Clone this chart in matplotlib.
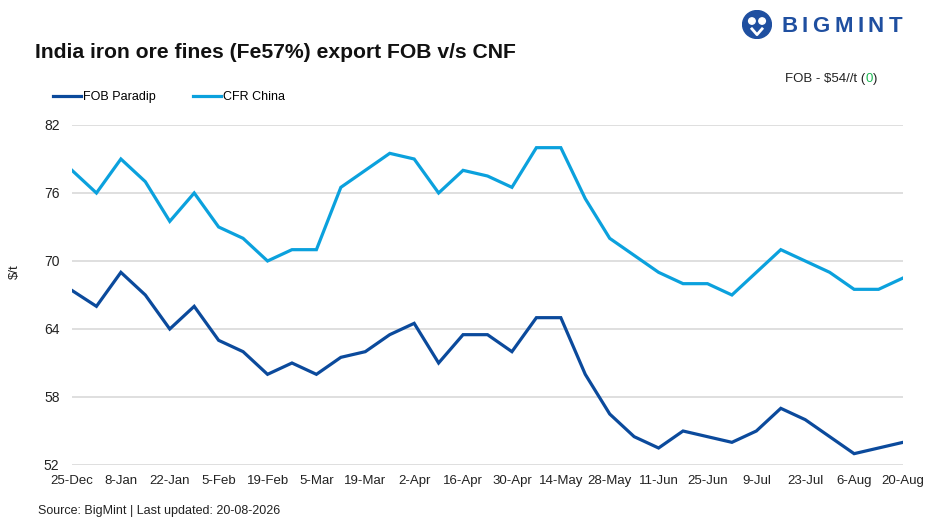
import matplotlib
matplotlib.use("Agg")
import matplotlib.pyplot as plt
from matplotlib.patches import Circle
import numpy as np

tick_labels = ["25-Dec", "8-Jan", "22-Jan", "5-Feb", "19-Feb", "5-Mar", "19-Mar", "2-Apr",
               "16-Apr", "30-Apr", "14-May", "28-May", "11-Jun", "25-Jun", "9-Jul",
               "23-Jul", "6-Aug", "20-Aug"]

fob_paradip = [67.4, 66, 69, 67, 64, 66, 63, 62, 60, 61, 60, 61.5, 62, 63.5, 64.5, 61,
               63.5, 63.5, 62, 65, 65, 60, 56.5, 54.5, 53.5, 55, 54.5, 54, 55, 57, 56,
               54.5, 53, 53.5, 54]
cfr_china = [78, 76, 79, 77, 73.5, 76, 73, 72, 70, 71, 71, 76.5, 78, 79.5, 79, 76, 78,
             77.5, 76.5, 80, 80, 75.5, 72, 70.5, 69, 68, 68, 67, 69, 71, 70, 69, 67.5,
             67.5, 68.5]
y_ticks = [52, 58, 64, 70, 76, 82]

FOB_COLOR = "#0B4A9C"
CFR_COLOR = "#0BA1DD"

plt.rcParams['font.family'] = ['Liberation Sans', 'DejaVu Sans']

fig = plt.figure(figsize=(9.3, 5.25), dpi=100)
ax = fig.add_axes([72/930, 60/525, (903-72)/930, 340/525])

x = np.arange(len(fob_paradip))
ax.plot(x, fob_paradip, color=FOB_COLOR, lw=2.3, solid_joinstyle='miter', label="FOB Paradip")
ax.plot(x, cfr_china, color=CFR_COLOR, lw=2.3, solid_joinstyle='miter', label="CFR China")

ax.set_xlim(0, len(x) - 1)
ax.set_ylim(52, 82)
ax.set_yticks(y_ticks)
ax.set_xticks(np.arange(0, len(x), 2))
ax.set_xticklabels(tick_labels)
ax.tick_params(axis='both', length=0, labelsize=9.5, colors="#222222")
ax.tick_params(axis='x', pad=7.5)
ax.tick_params(axis='y', pad=9, labelsize=10)
ax.grid(axis='y', color="#D9D9D9", lw=1.2)
ax.set_axisbelow(True)
for s in ax.spines.values():
    s.set_visible(False)

fig.text(15/930, 1 - 272/525, "$/t", rotation=90, ha='center', va='center', fontsize=9.5, color="#222222")

# Title
fig.text(35/930, 1 - 52/525, "India iron ore fines (Fe57%) export FOB v/s CNF",
         fontsize=15.2, fontweight='bold', ha='left', va='center', color="#111111")

# Legend
ax.legend(loc='center left', bbox_to_anchor=(53/930, 1 - 97/525), bbox_transform=fig.transFigure,
          ncol=2, frameon=False, borderpad=0, borderaxespad=0, handlelength=2.25,
          handletextpad=0.15, columnspacing=3.0, prop={'size': 9})

# FOB annotation
t1 = fig.text(877/930, 1 - 79/525, ")", ha='right', va='center', fontsize=9.5, color="#222222")
fig.canvas.draw()
r = fig.canvas.get_renderer()
bb = t1.get_window_extent(r)
t2 = fig.text(bb.x0 / 930, 1 - 79/525, "0", ha='right', va='center', fontsize=9.5, color="#1DB954")
bb2 = t2.get_window_extent(r)
fig.text(bb2.x0 / 930, 1 - 79/525, "FOB - $54//t (", ha='right', va='center', fontsize=9.5, color="#222222")

# Source
fig.text(38/930, 1 - 511/525, "Source: BigMint | Last updated: 20-08-2026", ha='left', va='center',
         fontsize=9, color="#222222")

# Logo
LOGO = "#1F4FA0"
logo_ax = fig.add_axes([742/930, 1 - 39/525, 30/930, 29/525])
logo_ax.set_xlim(0, 1); logo_ax.set_ylim(0, 1); logo_ax.axis('off')
logo_ax.add_patch(Circle((0.5, 0.5), 0.48, color=LOGO, transform=logo_ax.transAxes))
logo_ax.add_patch(Circle((0.33, 0.62), 0.11, color='white', transform=logo_ax.transAxes))
logo_ax.add_patch(Circle((0.67, 0.62), 0.11, color='white', transform=logo_ax.transAxes))
logo_ax.plot([0.33, 0.5, 0.67], [0.35, 0.15, 0.35], color='white', lw=2, transform=logo_ax.transAxes)
logo_text = "BIGMINT"
lx = 781
for ch in logo_text:
    t = fig.text(lx/930, 1 - 27/525, ch, ha='left', va='center', fontsize=16, fontweight='bold',
                 color=LOGO)
    w = t.get_window_extent(r).width
    lx += w + 4.5

fig.savefig("out.png", dpi=100, facecolor='white')
